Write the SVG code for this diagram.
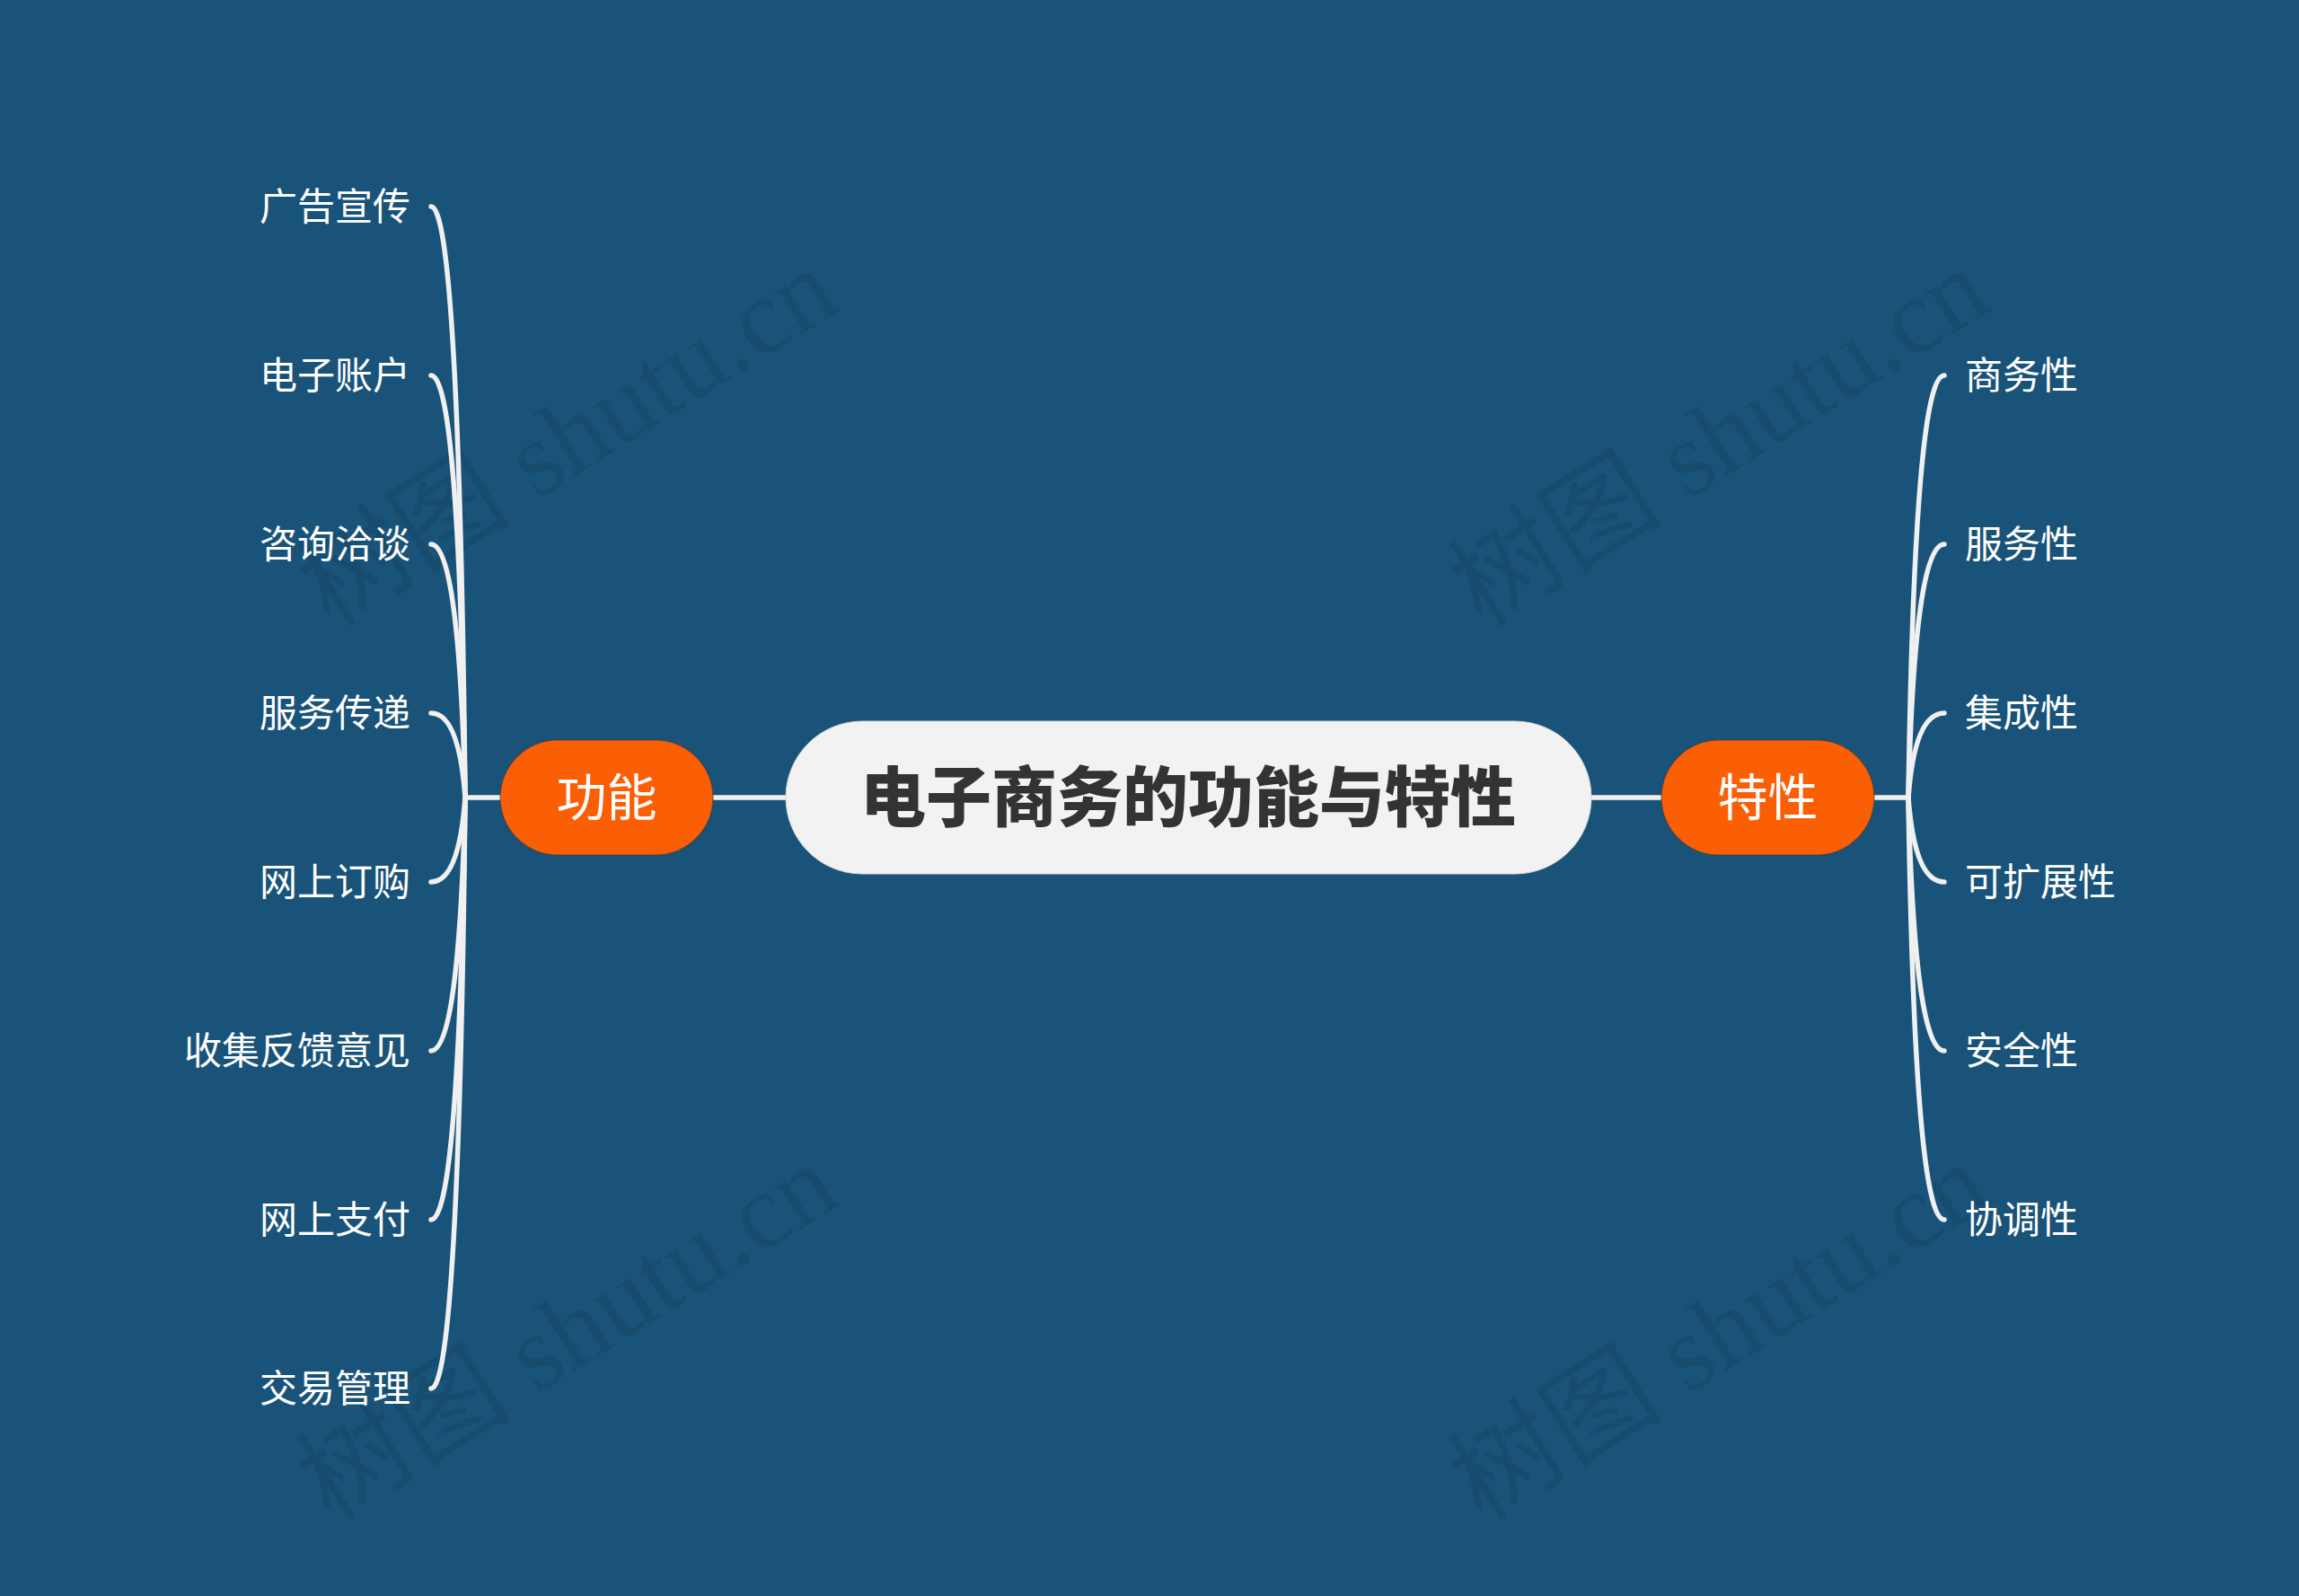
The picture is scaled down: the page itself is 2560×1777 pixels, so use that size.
<svg xmlns="http://www.w3.org/2000/svg" width="2560" height="1777" viewBox="0 0 2560 1777">
<style>
.bg{fill:#195379}
.wm{font-family:"Liberation Serif","Noto Sans CJK SC",serif;font-size:120px;fill:#000;fill-opacity:0.08}
.conn path{fill:none;stroke:#f0f0f0;stroke-width:5.5;stroke-linecap:round}
.root rect{fill:#f2f2f2;stroke:#d8d8d8;stroke-width:1}
.root text{font-family:"Noto Sans CJK SC","Noto Sans",sans-serif;font-weight:900;font-size:73px;fill:#333333;text-anchor:middle}
.main rect{fill:#fa5f06;stroke:#3a3a3a;stroke-opacity:0.5;stroke-width:1.5}
.main text{font-family:"Noto Sans CJK SC","Noto Sans",sans-serif;font-size:56px;fill:#ffffff;text-anchor:middle}
.sub text{font-family:"Noto Sans CJK SC","Noto Sans",sans-serif;font-size:42px;fill:#ffffff}
.l text{text-anchor:end}
.r text{text-anchor:start}
</style>
<rect class="bg" x="0" y="0" width="2560" height="1777"/>
<g id="watermarks">
<text class="wm" transform="translate(368,700) rotate(-32)">树图 shutu.cn</text>
<text class="wm" transform="translate(1650,700) rotate(-32)">树图 shutu.cn</text>
<text class="wm" transform="translate(368,1696) rotate(-32)">树图 shutu.cn</text>
<text class="wm" transform="translate(1650,1696) rotate(-32)">树图 shutu.cn</text>
</g>
<g id="connectors" class="conn">
<path d="M794 888H875"/>
<path d="M1772 888H1850"/>
<path d="M557 888H518"/>
<path d="M2087 888H2125"/>
<path d="M518 888Q511 230 480 230"/>
<path d="M518 888Q511 418 480 418"/>
<path d="M518 888Q511 606 480 606"/>
<path d="M518 888Q511 794 480 794"/>
<path d="M518 888Q511 982 480 982"/>
<path d="M518 888Q511 1170 480 1170"/>
<path d="M518 888Q511 1358 480 1358"/>
<path d="M518 888Q511 1546 480 1546"/>
<path d="M2125 888Q2132 418 2165 418"/>
<path d="M2125 888Q2132 606 2165 606"/>
<path d="M2125 888Q2132 794 2165 794"/>
<path d="M2125 888Q2132 982 2165 982"/>
<path d="M2125 888Q2132 1170 2165 1170"/>
<path d="M2125 888Q2132 1358 2165 1358"/>
</g>
<g id="root" class="root">
<rect x="875" y="803" width="897" height="170" rx="85" ry="85"/>
<text x="1323" y="914">电子商务的功能与特性</text>
</g>
<g id="n-gongneng" class="main">
<rect x="557" y="824" width="237" height="128" rx="64" ry="64"/>
<text x="675.5" y="908">功能</text>
</g>
<g id="n-texing" class="main">
<rect x="1850" y="824" width="237" height="128" rx="64" ry="64"/>
<text x="1968.5" y="908">特性</text>
</g>
<g class="sub l">
<g id="l1"><text x="457" y="245">广告宣传</text></g>
<g id="l2"><text x="457" y="433">电子账户</text></g>
<g id="l3"><text x="457" y="621">咨询洽谈</text></g>
<g id="l4"><text x="457" y="809">服务传递</text></g>
<g id="l5"><text x="457" y="997">网上订购</text></g>
<g id="l6"><text x="457" y="1185">收集反馈意见</text></g>
<g id="l7"><text x="457" y="1373">网上支付</text></g>
<g id="l8"><text x="457" y="1561">交易管理</text></g>
</g>
<g class="sub r">
<g id="r1"><text x="2188" y="433">商务性</text></g>
<g id="r2"><text x="2188" y="621">服务性</text></g>
<g id="r3"><text x="2188" y="809">集成性</text></g>
<g id="r4"><text x="2188" y="997">可扩展性</text></g>
<g id="r5"><text x="2188" y="1185">安全性</text></g>
<g id="r6"><text x="2188" y="1373">协调性</text></g>
</g>
</svg>
